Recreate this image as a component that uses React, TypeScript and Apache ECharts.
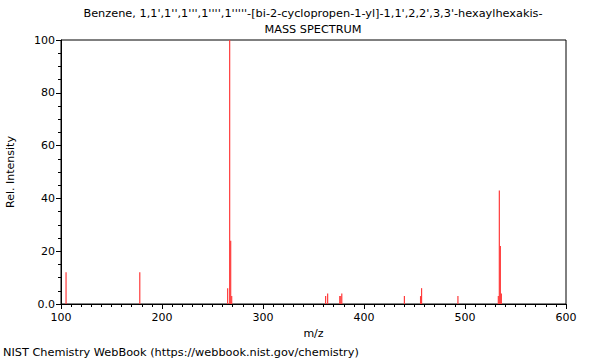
import React, { useEffect, useRef } from "react";
import * as echarts from "echarts";

const titleLine1 = "Benzene, 1,1',1'',1''',1'''',1'''''-[bi-2-cyclopropen-1-yl]-1,1',2,2',3,3'-hexaylhexakis-";
const titleLine2 = "MASS SPECTRUM";
const footer = "NIST Chemistry WebBook (https://webbook.nist.gov/chemistry)";

const mzValues = [105, 178, 265, 267, 268, 269, 362, 364, 376, 377, 378, 440, 456, 457, 493, 533, 534, 535, 536];
const intensities = [12, 12, 6, 100, 24, 3, 3, 4, 3, 3, 4, 3, 3, 6, 3, 3, 43, 22, 4];

const xTicks = [100, 200, 300, 400, 500, 600];
const yTicks = [0, 20, 40, 60, 80, 100];

export default function App() {
  const ref = useRef<HTMLDivElement>(null);
  useEffect(() => {
    document.body.style.margin = "0";
    if (!ref.current) return;
    const chart = echarts.init(ref.current, null, { renderer: "svg" });
    const font = "DejaVu Sans";
    const ts = { fontSize: 11.3, fontWeight: "normal", color: "#000", fontFamily: font };
    chart.setOption({
      animation: false,
      backgroundColor: "#fff",
      textStyle: { fontFamily: font },
      title: [
        { text: titleLine1, left: 313, top: 8, padding: 0, textAlign: "center", textStyle: ts },
        { text: titleLine2, left: 313, top: 24, padding: 0, textAlign: "center", textStyle: ts },
        { text: footer, left: 3, top: 347, padding: 0, textStyle: ts },
      ],
      grid: { left: 61, right: 34, top: 40, bottom: 56, outerBoundsMode: "none", containLabel: false, show: true, borderColor: "#000", borderWidth: 1, backgroundColor: "transparent" },
      xAxis: {
        type: "value",
        min: xTicks[0],
        max: xTicks[xTicks.length - 1],
        interval: 100,
        name: "m/z",
        nameLocation: "middle",
        nameGap: 24,
        nameTextStyle: { fontSize: 11, color: "#000", fontFamily: font },
        axisLine: { show: true, lineStyle: { color: "#000" } },
        axisTick: { show: true, length: 5, lineStyle: { color: "#000" } },
        minorTick: { show: true, splitNumber: 10, length: 3, lineStyle: { color: "#000" } },
        axisLabel: { fontSize: 11, color: "#000", margin: 8, fontFamily: font },
        splitLine: { show: false },
      },
      yAxis: {
        type: "value",
        min: yTicks[0],
        max: yTicks[yTicks.length - 1],
        interval: 20,
        name: "Rel. Intensity",
        nameLocation: "middle",
        nameGap: 45,
        nameTextStyle: { fontSize: 11, color: "#000", fontFamily: font },
        axisLine: { show: true, lineStyle: { color: "#000" } },
        axisTick: { show: true, length: 5, lineStyle: { color: "#000" } },
        minorTick: { show: true, splitNumber: 4, length: 3, lineStyle: { color: "#000" } },
        axisLabel: { fontSize: 11, color: "#000", margin: 6, fontFamily: font, formatter: (v: number) => (v === 0 ? "0.0" : String(v)) },
        splitLine: { show: false },
      },
      series: [
        {
          type: "bar",
          barWidth: 1.2,
          itemStyle: { color: "#ff3b3b" },
          data: mzValues.map((m, i) => [m, intensities[i]]),
        },
      ],
    });
    return () => chart.dispose();
  }, []);
  return <div ref={ref} style={{ width: 600, height: 360, position: "fixed", left: 0, top: 0 }} />;
}
